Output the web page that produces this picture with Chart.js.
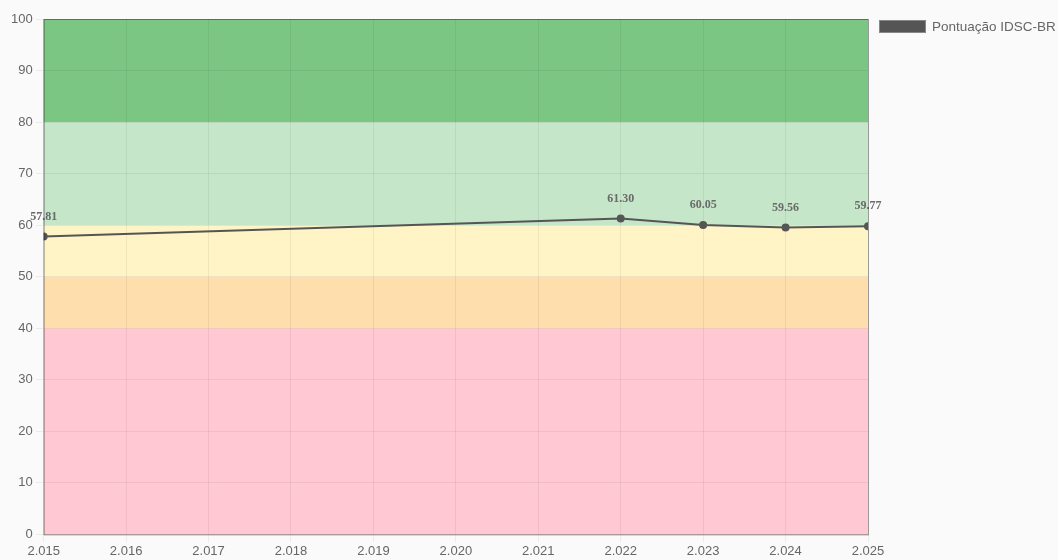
<!DOCTYPE html>
<html>
<head>
<meta charset="utf-8">
<script src="https://cdn.jsdelivr.net/npm/chart.js@4.4.1/dist/chart.umd.min.js"></script>
<style>
  html, body { margin: 0; padding: 0; background: #fafafa; }
  #wrap { width: 1058px; height: 560px; }
</style>
</head>
<body>
<div id="wrap"><canvas id="chart" width="1058" height="560"></canvas></div>
<script>
// data
const years = [2015, 2022, 2023, 2024, 2025];
const scores = [57.81, 61.30, 60.05, 59.56, 59.77];
const seriesLabel = 'Pontuação IDSC-BR';

// colour bands behind the line (y from / to)
const bandFrom = [0, 40, 50, 60, 80];
const bandTo = [40, 50, 60, 80, 100];
const bandColors = ['#ffc8d2', '#ffdeae', '#fff4c6', '#c6e6c9', '#7cc684'];

const bandsPlugin = {
    id: 'bands',
    beforeDraw(chart) {
        const ctx = chart.ctx;
        const area = chart.chartArea;
        const y = chart.scales.y;
        ctx.save();
        for (let i = 0; i < bandFrom.length; i++) {
            const top = y.getPixelForValue(bandTo[i]);
            const bottom = y.getPixelForValue(bandFrom[i]);
            ctx.fillStyle = bandColors[i];
            ctx.fillRect(area.left, top, area.right - area.left, bottom - top);
        }
        ctx.restore();
    },
    afterDraw(chart) {
        const ctx = chart.ctx;
        const area = chart.chartArea;
        ctx.save();
        ctx.strokeStyle = 'rgba(0,0,0,0.35)';
        ctx.lineWidth = 1;
        ctx.strokeRect(area.left + 0.5, area.top + 0.5, area.right - area.left, area.bottom - area.top);

        // legend, top right next to the plot
        const ds = chart.data.datasets[0];
        const bx = area.right + 11;
        const by = 20;
        ctx.fillStyle = ds.backgroundColor;
        ctx.fillRect(bx, by, 47, 13);
        ctx.strokeStyle = '#888';
        ctx.strokeRect(bx + 0.5, by + 0.5, 46, 12);
        ctx.fillStyle = '#666';
        ctx.font = '13.5px "Liberation Sans", Arial';
        ctx.textAlign = 'left';
        ctx.textBaseline = 'middle';
        ctx.fillText(ds.label, bx + 53, by + 7);
        ctx.restore();
    }
};

const valueLabels = {
    id: 'valueLabels',
    afterDatasetsDraw(chart) {
        const ctx = chart.ctx;
        const meta = chart.getDatasetMeta(0);
        ctx.save();
        ctx.font = 'bold 12px "Liberation Serif", serif';
        ctx.fillStyle = '#6a6a6a';
        ctx.textAlign = 'center';
        ctx.textBaseline = 'bottom';
        meta.data.forEach((pt, i) => {
            ctx.fillText(scores[i].toFixed(2), pt.x, pt.y - 14);
        });
        ctx.restore();
    }
};

const tickFont = { family: '"Liberation Sans", Arial', size: 13 };

const ctx = document.getElementById('chart').getContext('2d');
new Chart(ctx, {
    type: 'line',
    data: {
        datasets: [{
            label: seriesLabel,
            data: years.map((yr, i) => ({ x: yr, y: scores[i] })),
            borderColor: '#555',
            backgroundColor: '#555',
            borderWidth: 2,
            pointRadius: 3,
            pointBackgroundColor: '#555',
            tension: 0
        }]
    },
    options: {
        responsive: false,
        animation: false,
        locale: 'pt-BR',
        layout: { padding: { top: 19, right: 190, bottom: 0, left: 8 } },
        plugins: {
            legend: { display: false },
            tooltip: { enabled: false }
        },
        scales: {
            x: {
                type: 'linear',
                min: 2015,
                max: 2025,
                ticks: { stepSize: 1, color: '#666', font: tickFont, padding: 1 },
                grid: { color: 'rgba(0,0,0,0.06)' }
            },
            y: {
                min: 0,
                max: 100,
                ticks: { stepSize: 10, color: '#666', font: tickFont },
                grid: { color: 'rgba(0,0,0,0.06)' }
            }
        }
    },
    plugins: [bandsPlugin, valueLabels]
});
</script>
</body>
</html>
